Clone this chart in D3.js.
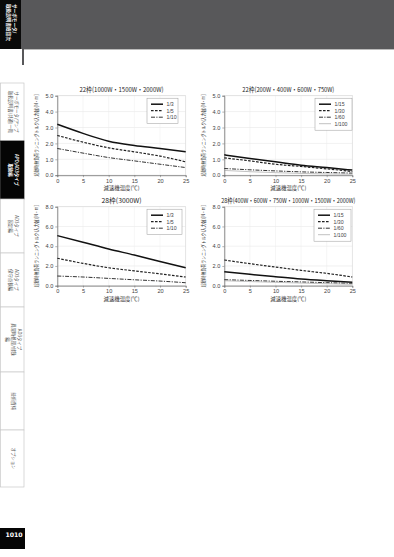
<!DOCTYPE html>
<html>
<head>
<meta charset="utf-8">
<script src="https://cdn.jsdelivr.net/npm/d3@7"></script>
<style>
  html, body { margin: 0; padding: 0; background: #fff; }
  svg { display: block; font-family: "Noto Sans CJK JP", "Noto Sans", sans-serif; }
</style>
</head>
<body>
<div id="page"></div>
<script>
// temperatures on the x axis
var temps = [0, 5, 10, 15, 20, 25];

var chart1Title = "22枠(1000W・1500W・2000W)";
var chart1Series = ["1/3", "1/5", "1/10"];
var chart1Values = [
  [3.2, 2.63, 2.14, 1.87, 1.68, 1.47],
  [2.5, 2.08, 1.72, 1.47, 1.2, 0.84],
  [1.68, 1.39, 1.11, 0.9, 0.69, 0.48]
];

var chart2Title = "22枠(200W・400W・600W・750W)";
var chart2Series = ["1/15", "1/30", "1/60", "1/100"];
var chart2Values = [
  [1.28, 1.05, 0.84, 0.63, 0.48, 0.32],
  [1.09, 0.9, 0.69, 0.55, 0.4, 0.23],
  [0.42, 0.34, 0.27, 0.21, 0.17, 0.13],
  [0.3, 0.22, 0.16, 0.11, 0.08, 0.06]
];

var chart3Title = "28枠(3000W)";
var chart3Series = ["1/3", "1/5", "1/10"];
var chart3Values = [
  [5.07, 4.4, 3.72, 3.1, 2.45, 1.82],
  [2.78, 2.26, 1.82, 1.5, 1.2, 0.88],
  [0.98, 0.88, 0.74, 0.6, 0.47, 0.3]
];

var chart4Title = "28枠(400W・600W・750W・1000W・1500W・2000W)";
var chart4Series = ["1/15", "1/30", "1/60", "1/100"];
var chart4Values = [
  [1.42, 1.15, 0.91, 0.68, 0.5, 0.34],
  [2.6, 2.23, 1.89, 1.55, 1.25, 0.88],
  [0.61, 0.53, 0.45, 0.38, 0.31, 0.24],
  [0.5, 0.42, 0.34, 0.27, 0.2, 0.14]
];

var yTicksSmall = [0, 1, 2, 3, 4, 5];
var yTicksLarge = [0, 2, 4, 6, 8];

var tabLabels = [
  ["サーボモータ/アンプ", "取扱説明書(共通)一覧"],
  ["APD/AD3タイプ", "取扱編"],
  ["AD3タイプ", "固定編"],
  ["AD3タイプ", "保守点検編"],
  ["AD3タイプ", "異常時処理/付録", "編"],
  ["技術資料"],
  ["オプション"]
];
var yTitle = "起動時無負荷ランニングトルク(入力軸)[N・m]";
var xTitle = "減速機温度(℃)";

var W = 394, H = 557;
var svg = d3.select("#page").append("svg").attr("width", W).attr("height", H);

// header band
svg.append("rect").attr("x", 0).attr("y", 0).attr("width", W).attr("height", 49).attr("fill", "#58585a");
svg.append("rect").attr("x", 0).attr("y", 0).attr("width", 21).attr("height", 49).attr("fill", "#0a0a0a");
svg.append("line").attr("x1", 24).attr("x2", W).attr("y1", 49.5).attr("y2", 49.5).attr("stroke", "#bbb");
svg.append("rect").attr("x", 22).attr("y", 49).attr("width", 2).attr("height", 16).attr("fill", "#58585a");
var hdr = svg.append("text").attr("transform", "translate(13,4) rotate(90)")
  .attr("fill", "#fff").attr("font-size", 4.6).attr("font-weight", "bold");
hdr.append("tspan").attr("x", 0).attr("y", 0).text("サーボモータ/");
hdr.append("tspan").attr("x", 0).attr("y", 6).text("取扱説明書総目次");

// side tabs
var tabEdges = [83, 141, 199, 253, 307, 372, 430, 487];
tabLabels.forEach(function(lines, i) {
  var y0 = tabEdges[i], y1 = tabEdges[i + 1];
  var active = i === 1;
  svg.append("rect").attr("x", 0.5).attr("y", y0).attr("width", 23.5).attr("height", y1 - y0)
    .attr("fill", active ? "#050505" : "#fff").attr("stroke", active ? "#050505" : "#c8c8c8").attr("stroke-width", 0.7);
  var cx = 12 + (lines.length - 1) * 2.8;
  var t = svg.append("text").attr("transform", "translate(" + cx + "," + ((y0 + y1) / 2) + ") rotate(90)")
    .attr("text-anchor", "middle").attr("font-size", 4.4)
    .attr("fill", active ? "#fff" : "#555").attr("font-weight", active ? "bold" : "normal");
  lines.forEach(function(s, j) {
    t.append("tspan").attr("x", 0).attr("y", j * 5.6).text(s);
  });
});
svg.append("rect").attr("x", 0).attr("y", 528).attr("width", 25).attr("height", 21).attr("fill", "#050505");
svg.append("text").attr("x", 14).attr("y", 537).attr("text-anchor", "middle").attr("font-size", 6.2)
  .attr("font-weight", "bold").attr("fill", "#fff").attr("font-family", "DejaVu Sans").text("1010");

var styles = [
  { dash: null, width: 1.5, color: "#111" },
  { dash: "2.6,1.4", width: 1.2, color: "#222" },
  { dash: "4,1.3,1.2,1.3", width: 1.0, color: "#333" },
  { dash: null, width: 0.6, color: "#999" }
];

function drawChart(cfg) {
  var g = svg.append("g");
  var x = d3.scaleLinear().domain([0, 25]).range([cfg.left, cfg.right]);
  var y = d3.scaleLinear().domain([0, cfg.yMax]).range([cfg.bottom, cfg.top]);

  // grid
  g.append("g").selectAll("line").data(cfg.yTicks).join("line")
    .attr("x1", cfg.left).attr("x2", cfg.right)
    .attr("y1", function(d) { return y(d); }).attr("y2", function(d) { return y(d); })
    .attr("stroke", "#e2e2e2").attr("stroke-width", 0.5);
  g.append("g").selectAll("line").data(temps).join("line")
    .attr("y1", cfg.top).attr("y2", cfg.bottom)
    .attr("x1", function(d) { return x(d); }).attr("x2", function(d) { return x(d); })
    .attr("stroke", "#ececec").attr("stroke-width", 0.5);
  g.append("rect").attr("x", cfg.left).attr("y", cfg.top).attr("width", cfg.right - cfg.left)
    .attr("height", cfg.bottom - cfg.top).attr("fill", "none").attr("stroke", "#d6d6d6").attr("stroke-width", 0.5);

  var ya = g.append("g").attr("transform", "translate(" + cfg.left + ",0)")
    .call(d3.axisLeft(y).tickValues(cfg.yTicks).tickFormat(d3.format(".1f")).tickSize(2).tickPadding(2));
  var xa = g.append("g").attr("transform", "translate(0," + cfg.bottom + ")")
    .call(d3.axisBottom(x).tickValues(temps).tickSize(2).tickPadding(1.5));
  [ya, xa].forEach(function(a) {
    a.select(".domain").attr("stroke", "#666").attr("stroke-width", 0.7);
    a.selectAll(".tick line").attr("stroke", "#666").attr("stroke-width", 0.5);
    a.selectAll(".tick text").attr("font-size", 5.6).attr("fill", "#444").attr("font-family", "Liberation Sans, Arial, sans-serif");
  });

  // title
  g.append("text").attr("x", (cfg.left + cfg.right) / 2).attr("y", cfg.top - 4)
    .attr("text-anchor", "middle").attr("font-size", 6.6).attr("fill", "#222")
    .attr("textLength", cfg.titleLen).attr("lengthAdjust", "spacingAndGlyphs").text(cfg.title);
  // axis titles
  g.append("text").attr("x", (cfg.left + cfg.right) / 2).attr("y", cfg.bottom + 15)
    .attr("text-anchor", "middle").attr("font-size", 5.4).attr("fill", "#333").text(xTitle);
  g.append("text").attr("transform", "translate(" + (cfg.left - 19.5) + "," + ((cfg.top + cfg.bottom) / 2) + ") rotate(-90)")
    .attr("text-anchor", "middle").attr("font-size", 4.6).attr("fill", "#333")
    .attr("textLength", 82).attr("lengthAdjust", "spacingAndGlyphs").text(yTitle);

  // lines
  var line = d3.line().curve(d3.curveMonotoneX)
    .x(function(d, i) { return x(temps[i]); }).y(function(d) { return y(d); });
  cfg.values.forEach(function(vals, i) {
    var s = styles[i];
    g.append("path").attr("d", line(vals)).attr("fill", "none")
      .attr("stroke", s.color).attr("stroke-width", s.width).attr("stroke-dasharray", s.dash);
  });

  // legend
  var n = cfg.series.length;
  var lg = g.append("g").attr("transform", "translate(" + cfg.legX + "," + (cfg.top + 2.5) + ")");
  lg.append("rect").attr("width", cfg.legW).attr("height", 6 + n * 6.5).attr("fill", "#fff")
    .attr("stroke", "#999").attr("stroke-width", 0.5);
  cfg.series.forEach(function(name, i) {
    var s = styles[i], yy = 6 + i * 6.5;
    lg.append("line").attr("x1", 4).attr("x2", 16).attr("y1", yy).attr("y2", yy)
      .attr("stroke", s.color).attr("stroke-width", s.width).attr("stroke-dasharray", s.dash);
    lg.append("text").attr("x", 19.5).attr("y", yy + 2).attr("font-size", 5.2).attr("fill", "#444")
      .attr("font-family", "Liberation Sans, Arial, sans-serif").text(name);
  });
}

drawChart({ title: chart1Title, titleLen: 84, series: chart1Series, values: chart1Values,
  left: 57.3, right: 185.7, top: 95.7, bottom: 175.2, yMax: 5, yTicks: yTicksSmall, legX: 147, legW: 31 });
drawChart({ title: chart2Title, titleLen: 92, series: chart2Series, values: chart2Values,
  left: 224.3, right: 352.3, top: 95.7, bottom: 175.2, yMax: 5, yTicks: yTicksSmall, legX: 315, legW: 37 });
drawChart({ title: chart3Title, titleLen: 40, series: chart3Series, values: chart3Values,
  left: 57.3, right: 185.7, top: 206.7, bottom: 285.7, yMax: 8, yTicks: yTicksLarge, legX: 147, legW: 35 });
drawChart({ title: chart4Title, titleLen: 134, series: chart4Series, values: chart4Values,
  left: 224.3, right: 352.3, top: 206.7, bottom: 285.7, yMax: 8, yTicks: yTicksLarge, legX: 314, legW: 37 });
</script>
</body>
</html>
